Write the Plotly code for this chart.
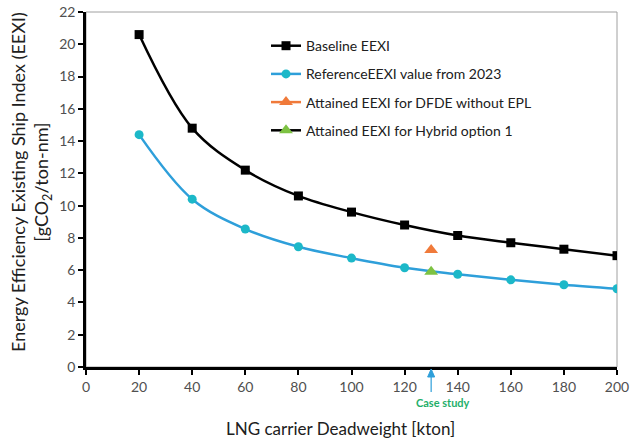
import plotly.graph_objects as go

deadweight = [20, 40, 60, 80, 100, 120, 140, 160, 180, 200]
baseline_eexi = [20.6, 14.8, 12.2, 10.6, 9.6, 8.8, 8.15, 7.7, 7.3, 6.9]
reference_eexi = [14.4, 10.4, 8.55, 7.45, 6.75, 6.15, 5.75, 5.4, 5.1, 4.85]
case_dwt = [130]
dfde_eexi = [7.25]
hybrid_eexi = [5.9]
x_ticks = [0, 20, 40, 60, 80, 100, 120, 140, 160, 180, 200]
y_ticks = [0, 2, 4, 6, 8, 10, 12, 14, 16, 18, 20, 22]

FONT = "Lato"
X_MAX = 200
PLOT_W, PLOT_H = 531, 355
fig = go.Figure()
fig.add_trace(go.Scatter(x=deadweight, y=baseline_eexi, name="Baseline EEXI", legendgroup="a",
                         mode="lines+markers", line=dict(color="black", width=2.5, shape="spline"),
                         marker=dict(symbol="square", size=9, color="black")))
fig.add_trace(go.Scatter(x=deadweight, y=reference_eexi, name="ReferenceEEXI value from 2023", legendgroup="b",
                         mode="lines+markers", line=dict(color="#2E9FDA", width=2.5, shape="spline"),
                         marker=dict(symbol="circle", size=9, color="#1CB8C8")))
fig.add_trace(go.Scatter(x=case_dwt, y=dfde_eexi, name="Attained EEXI for DFDE without EPL", legendgroup="c",
                         mode="lines+markers", line=dict(color="#F07A3A", width=2.5),
                         marker=dict(symbol="triangle-up", size=12, color="#F07A3A")))
fig.add_trace(go.Scatter(x=case_dwt, y=hybrid_eexi, name="Attained EEXI for Hybrid option 1", legendgroup="d",
                         mode="lines+markers", line=dict(color="black", width=2.5),
                         marker=dict(symbol="triangle-up", size=12, color="#7DC242")))

# plot frame (thin gray)
fig.add_shape(type="rect", xref="paper", yref="paper", x0=0, y0=0, x1=1, y1=1,
              line=dict(color="#A0A0A0", width=1), layer="below")

# case study arrow (paper coords, below the x axis)
cx = case_dwt[0] / X_MAX
hw = 3.5 / PLOT_W
tip, base, tail = -2 / PLOT_H, -10 / PLOT_H, -25 / PLOT_H
fig.add_shape(type="path", xref="paper", yref="paper",
              path=f"M {cx - hw},{base} L {cx},{tip} L {cx + hw},{base} Z",
              fillcolor="#2E9FDA", line=dict(color="#2E9FDA", width=1))
fig.add_shape(type="line", xref="paper", yref="paper",
              x0=cx, x1=cx, y0=base, y1=tail,
              line=dict(color="#2E9FDA", width=1.2))

fig.add_annotation(x=case_dwt[0], y=0, xref="x", yref="y", text="<b>Case study</b>",
                   showarrow=False, xshift=12, yshift=-35,
                   font=dict(family=FONT, size=11, color="#1FAF6A"))

# axis titles
fig.add_annotation(xref="paper", yref="paper", x=(340 - 86) / PLOT_W, y=-(428 - 367) / PLOT_H,
                   text="LNG carrier Deadweight [kton]", showarrow=False,
                   xanchor="center", yanchor="middle",
                   font=dict(family=FONT, size=17, color="#202020"))
fig.add_annotation(xref="paper", yref="paper", x=-(86 - 31) / PLOT_W, y=(367 - 182) / PLOT_H,
                   text="Energy Efficiency Existing Ship Index (EEXI)<br>[gCO<sub>2</sub>/ton-nm]",
                   showarrow=False, textangle=-90, xanchor="center", yanchor="middle",
                   font=dict(family=FONT, size=18, color="#202020"))

fig.update_layout(
    width=630, height=439,
    margin=dict(l=86, r=13, t=12, b=72),
    paper_bgcolor="white", plot_bgcolor="white",
    font=dict(family=FONT, size=14, color="#505050"),
    showlegend=True,
    legend=dict(x=0.339, y=0.949, xanchor="left", yanchor="top",
                bgcolor="rgba(255,255,255,0)", font=dict(family=FONT, size=14, color="#202020"),
                tracegroupgap=7, itemwidth=30),
    xaxis=dict(range=[0, X_MAX], tickvals=x_ticks, showgrid=False, zeroline=False,
               showline=True, linecolor="black", linewidth=2.5, automargin=False,
               ticks="outside", ticklen=5, tickcolor="black", tickwidth=1.5,
               tickfont=dict(family=FONT, size=14, color="#505050")),
    yaxis=dict(range=[0, 22], tickvals=y_ticks, showgrid=False, zeroline=False,
               showline=True, linecolor="black", linewidth=2.5, automargin=False,
               ticks="outside", ticklen=5, tickcolor="black", tickwidth=1.5,
               tickfont=dict(family=FONT, size=14, color="#505050")),
)

fig.write_html("out.html", config={"displayModeBar": False},
               post_script="document.body.style.margin='0';document.body.style.overflow='hidden';")
